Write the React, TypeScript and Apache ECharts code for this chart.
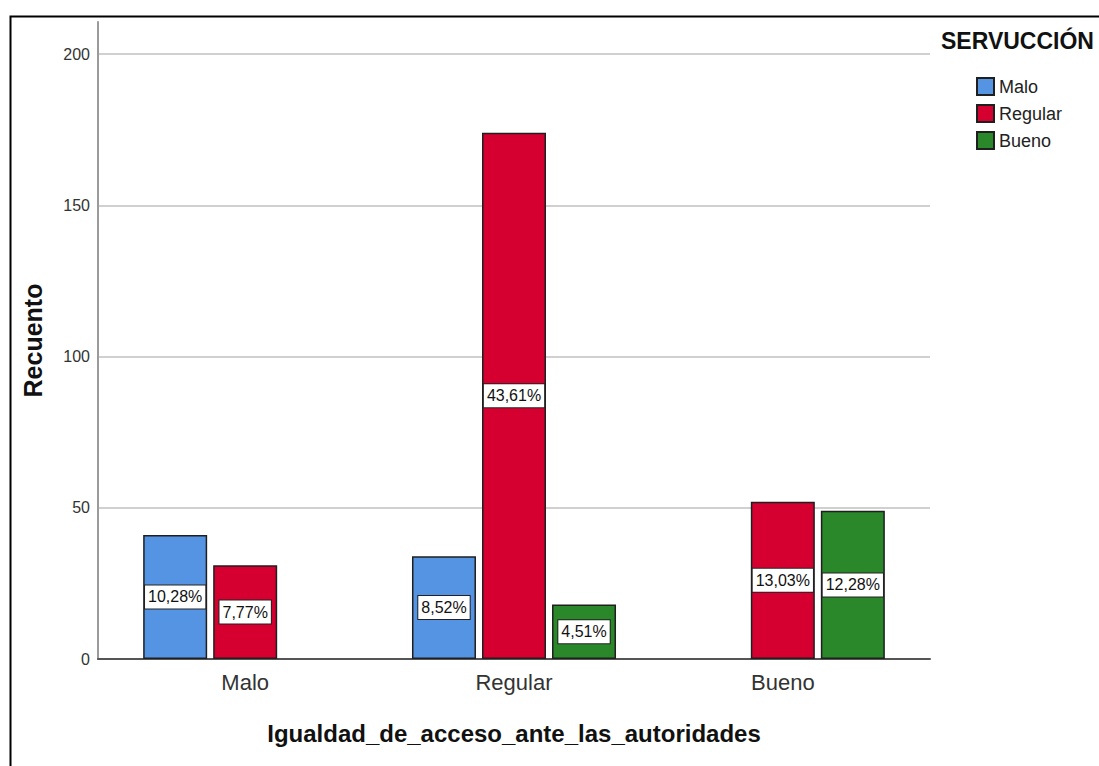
import React, { useEffect, useRef } from "react";
import * as echarts from "echarts";

// Igualdad_de_acceso_ante_las_autoridades (x categories) by SERVUCCIÓN level
const categories = ["Malo", "Regular", "Bueno"];
const levels = ["Malo", "Regular", "Bueno"];
// Counts per category; null means no cases in that cell
const maloCounts: (number | null)[] = [41, 34, null];
const regularCounts: (number | null)[] = [31, 174, 52];
const buenoCounts: (number | null)[] = [null, 18, 49];
const levelColors = ["#5594e2", "#d5002f", "#2a872a"];
const yTicks = [0, 50, 100, 150, 200];

const countsByLevel = [maloCounts, regularCounts, buenoCounts];
const total = countsByLevel
  .flat()
  .reduce((s: number, v) => s + (v ?? 0), 0);

const pct = (v: number) => ((v / total) * 100).toFixed(2).replace(".", ",") + "%";

const FONT = "'Liberation Sans', Arial, sans-serif";

export default function App() {
  const ref = useRef<HTMLDivElement>(null);

  useEffect(() => {
    if (!ref.current) return;
    const chart = echarts.init(ref.current, undefined, { renderer: "svg" });

    const series = countsByLevel.map((counts, li) => ({
      type: "bar",
      name: levels[li],
      barWidth: 64,
      barGap: "9.4%",
      data: counts
        .map((v, ci) => (v == null ? null : [ci, v]))
        .filter((d) => d !== null),
      itemStyle: {
        color: levelColors[li],
        borderColor: "#1f1f1f",
        borderWidth: 1.5,
      },
      label: {
        show: true,
        position: "inside",
        formatter: (p: any) => pct(p.value[1]),
        fontFamily: FONT,
        fontSize: 16,
        color: "#111",
        backgroundColor: "#fff",
        borderColor: "#222",
        borderWidth: 1,
        padding: [4, 3, 3, 3],
      },
    }));

    chart.setOption({
      animation: false,
      backgroundColor: "#fff",
      textStyle: { fontFamily: FONT },
      title: {
        text: "SERVUCCIÓN",
        left: 941,
        top: 29,
        padding: 0,
        textStyle: { fontFamily: FONT, fontSize: 23, fontWeight: "bold", color: "#111" },
      },
      legend: {
        data: levels,
        orient: "vertical",
        left: 976,
        top: 77,
        padding: 0,
        icon: "rect",
        itemWidth: 17,
        itemHeight: 17,
        itemGap: 8,
        textStyle: { fontFamily: FONT, fontSize: 18, color: "#222" },
      },
      grid: { left: 98, right: 169, top: 22, bottom: 107, containLabel: false },
      xAxis: {
        type: "value",
        min: -0.5475,
        max: 2.5475,
        name: "Igualdad_de_acceso_ante_las_autoridades",
        nameLocation: "middle",
        nameGap: 62,
        nameTextStyle: { fontFamily: FONT, fontSize: 24, fontWeight: "bold", color: "#111" },
        axisLine: { show: true, onZero: false, lineStyle: { color: "#555", width: 2 } },
        axisTick: { show: false },
        splitLine: { show: false },
        axisLabel: {
          customValues: [0, 1, 2],
          formatter: (v: number) => categories[Math.round(v)] ?? "",
          fontFamily: FONT,
          fontSize: 22,
          color: "#333",
          margin: 12,
        },
      },
      yAxis: {
        type: "value",
        min: 0,
        max: 210.6,
        interval: 50,
        name: "Recuento",
        nameLocation: "middle",
        nameRotate: 90,
        nameGap: 53,
        nameTextStyle: { fontFamily: FONT, fontSize: 25, fontWeight: "bold", color: "#111" },
        axisLine: { show: true, onZero: false, lineStyle: { color: "#9a9a9a", width: 2 } },
        axisTick: { show: false },
        axisLabel: {
          customValues: yTicks,
          fontFamily: FONT,
          fontSize: 16,
          color: "#333",
          margin: 8,
        },
        splitLine: {
          show: true,
          showMinLine: false,
          showMaxLine: false,
          lineStyle: { color: "#d0d0d0", width: 2 },
        },
      },
      graphic: [
        {
          type: "rect",
          shape: { x: 10.5, y: 16.5, width: 1300, height: 1000 },
          style: { fill: "none", stroke: "#000", lineWidth: 2 },
          silent: true,
        },
      ],
      series,
    });

    return () => chart.dispose();
  }, []);

  return (
    <div
      ref={ref}
      style={{ position: "absolute", left: 0, top: 0, width: 1099, height: 766 }}
    />
  );
}
